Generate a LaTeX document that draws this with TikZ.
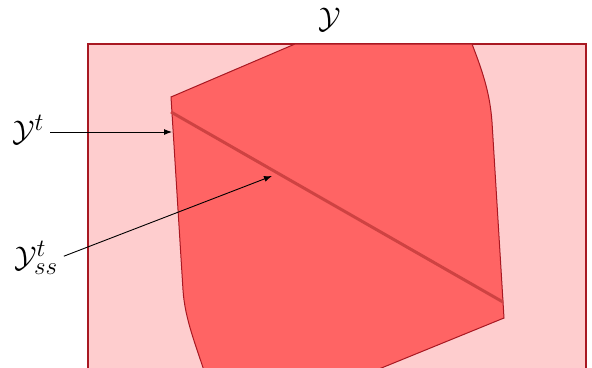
\documentclass[tikz,border=0pt]{standalone}
\usepackage{amsmath,amssymb}
\usetikzlibrary{arrows.meta}
\definecolor{outerfill}{RGB}{254,205,206}
\definecolor{innerfill}{RGB}{255,100,100}
\definecolor{edgered}{RGB}{168,24,34}
\definecolor{ssred}{RGB}{206,66,66}

\begin{document}
\begin{tikzpicture}[x=1pt, y=-1pt, every node/.style={font=\Huge, scale=1.2, inner sep=1pt},
  pointer/.style={-{Latex[length=8pt,width=6pt]}, line width=0.9pt, shorten <=5pt}]
\useasboundingbox (0,0) rectangle (592,367);
\begin{scope}
\clip (0,0) rectangle (592,367);
\draw[edgered, fill=outerfill, line width=1.3pt] (88,44) rectangle (586,390);
\draw[edgered, fill=innerfill, line width=1pt] (295,44) -- (472,44)
  .. controls (484,75) and (490,95) .. (492,122) -- (504,318) -- (352,380)
  -- (207,380) .. controls (196,345) and (185,320) .. (183,290) -- (171,97) -- cycle;
\draw[ssred, line width=3pt] (171,112) -- (503,302);
\end{scope}
\node (ytitle) at (330,20) {$\mathcal{Y}$};
\node (yt) at (28,130) {$\mathcal{Y}^t$};
\node (yss) at (36,258) {$\mathcal{Y}_{ss}^{t}$};
\coordinate (yttip) at (172,132);
\coordinate (ysstip) at (272,176);
\draw[pointer] (yt.east |- yttip) -- (yttip);
\draw[pointer] (yss.east) -- (ysstip);
\end{tikzpicture}
\end{document}
